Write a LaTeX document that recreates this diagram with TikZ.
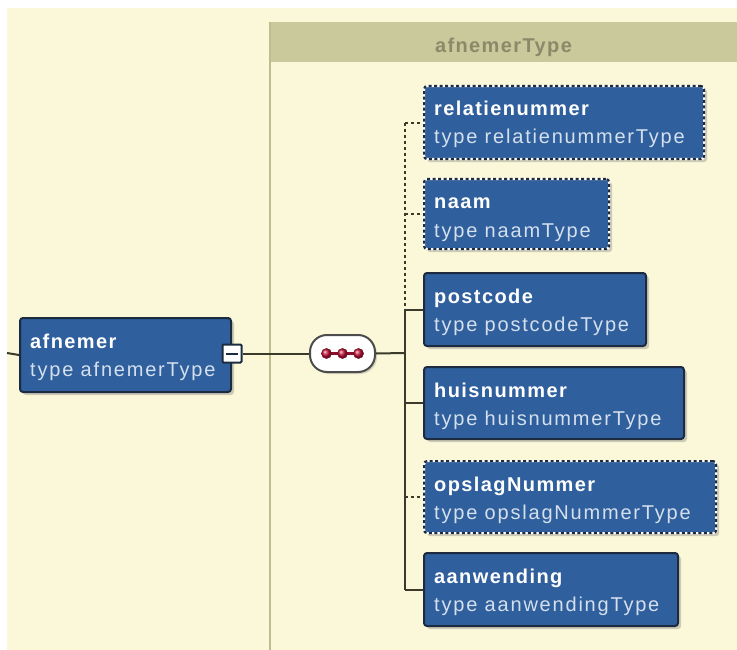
\documentclass[tikz,border=0pt]{standalone}
\usepackage{fontspec}
\setmainfont{Liberation Sans}
\newfontfamily\titlefont[LetterSpace=7]{Liberation Sans}
\newfontfamily\typefont[LetterSpace=9]{Liberation Sans}
\usetikzlibrary{calc,shadows}

\definecolor{cream}{HTML}{FAF8D8}
\definecolor{headerfill}{HTML}{C9C99B}
\definecolor{headerink}{HTML}{8A8A6A}
\definecolor{panelline}{HTML}{BDBD8E}
\definecolor{elfill}{HTML}{2F5F9C}
\definecolor{elborder}{HTML}{1C2B40}
\definecolor{typeink}{HTML}{D5E0EE}
\definecolor{connink}{HTML}{3A3A2A}
\definecolor{dotred}{HTML}{C8143C}

\tikzset{
  elbox/.style={rectangle, rounded corners=3pt, fill=elfill, inner sep=0pt,
    drop shadow={shadow xshift=3pt, shadow yshift=-3pt, opacity=0.3, fill=black!60}},
  elsolid/.style={draw=elborder, line width=2pt},
  eldashed/.style={draw=white, line width=2.2pt,
    postaction={draw=elborder, line width=2.2pt, dash pattern=on 3pt off 2.5pt}},
  eltitle/.style={inner sep=0pt, text=white, font=\titlefont\fontsize{20}{23}\selectfont\bfseries},
  eltype/.style={inner sep=0pt, text=typeink, font=\typefont\fontsize{20}{23}\selectfont},
  conn/.style={draw=connink, line width=2pt},
  optconn/.style={conn, dash pattern=on 3pt off 3pt},
  seqbox/.style={rectangle, rounded corners=17pt, fill=white, draw=black!70, line width=2pt,
    inner sep=0pt, drop shadow={shadow xshift=2pt, shadow yshift=-2pt, opacity=0.25, fill=black!60}},
  seqdot/.style={circle, inner sep=0pt, minimum size=10pt, draw=dotred!60!black, line width=0.6pt,
    shading=ball, ball color=dotred},
  foldbox/.style={rectangle, fill=white, draw=elborder, line width=2pt, inner sep=0pt,
    minimum width=19pt, minimum height=18pt, rounded corners=1pt},
  headertext/.style={inner sep=0pt, text=headerink, font=\titlefont\fontsize{20}{23}\selectfont\bfseries},
}

% one schema element: name, x, y, width, height, border style, title, type
\newcommand\elem[8]{%
  \node[elbox,#6,minimum width=#4pt,minimum height=#5pt,anchor=north west] (#1) at (#2,#3) {};
  \node[eltitle,anchor=base west] (#1-title) at ($(#1.north west)+(11,31)$) {#7};
  \node[eltype,anchor=base west] (#1-type) at ($(#1.north west)+(11,59)$) {type #8};
}

\begin{document}
\begin{tikzpicture}[x=1pt,y=-1pt]
\useasboundingbox (0,0) rectangle (737,650);
\fill[white] (0,0) rectangle (737,650);
\fill[cream] (7,8) rectangle (737,650);

% complex type panel
\fill[headerfill] (270,22) rectangle (737,62);
\draw[panelline, line width=2pt] (270,22) -- (270,650);
\node[headertext, anchor=base] (hdr) at (503.5,53) {afnemerType};

% anchors for the free connector ends
\coordinate (trunk) at (405,353);
\coordinate (inlet) at (7,353);

% sequence compositor
\node[seqbox, minimum width=65pt, minimum height=37pt] (seq) at (342.5,353.5) {};
\draw[dotred!70!black, line width=2.4pt] ($(seq.center)+(-16,0)$) -- ($(seq.center)+(16,0)$);
\node[seqdot] (dot1) at ($(seq.center)+(-16,0)$) {};
\node[seqdot] (dot2) at (seq.center) {};
\node[seqdot] (dot3) at ($(seq.center)+(16,0)$) {};

% elements
\elem{afnemer}{19}{317}{211}{74}{elsolid}{afnemer}{afnemerType}
\elem{relatienummer}{423}{85}{280}{73}{eldashed}{relatienummer}{relatienummerType}
\elem{naam}{423}{178}{185}{70}{eldashed}{naam}{naamType}
\elem{postcode}{423}{272}{222}{73}{elsolid}{postcode}{postcodeType}
\elem{huisnummer}{423}{366}{260}{72}{elsolid}{huisnummer}{huisnummerType}
\elem{opslagNummer}{423}{460}{292}{72}{eldashed}{opslagNummer}{opslagNummerType}
\elem{aanwending}{423}{552}{254}{73}{elsolid}{aanwending}{aanwendingType}

% collapse toggle
\node[foldbox] (fold) at (232,353.5) {};
\draw[elborder, line width=2pt] ($(fold.center)+(-6,0)$) -- ($(fold.center)+(6,0)$);

% connectors
\draw[conn] (inlet) -- (afnemer.west);
\draw[conn] (fold.east) -- (seq.west);
\draw[conn] (seq.east) -- (trunk);
\draw[optconn] (relatienummer.west -| trunk) -- (postcode.west -| trunk);
\draw[conn] (postcode.west -| trunk) -- (aanwending.west -| trunk);
\draw[optconn] (relatienummer.west -| trunk) -- (relatienummer.west);
\draw[optconn] (naam.west -| trunk) -- (naam.west);
\draw[conn] (postcode.west -| trunk) -- (postcode.west);
\draw[conn] (huisnummer.west -| trunk) -- (huisnummer.west);
\draw[optconn] (opslagNummer.west -| trunk) -- (opslagNummer.west);
\draw[conn] (aanwending.west -| trunk) -- (aanwending.west);
\end{tikzpicture}
\end{document}
